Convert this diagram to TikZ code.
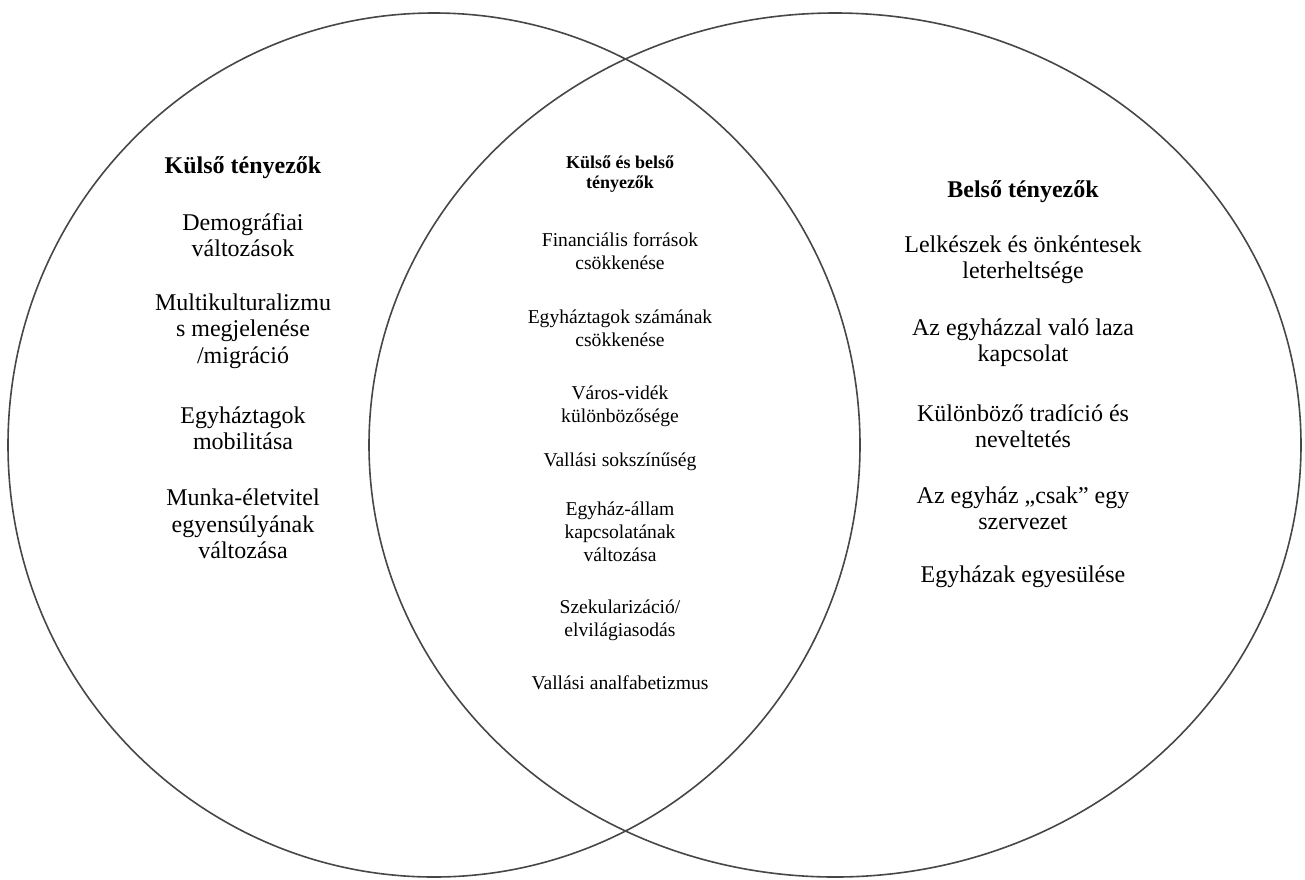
\documentclass[tikz,border=0pt]{standalone}
\usepackage{fontspec}
\setmainfont{Liberation Serif}

\tikzset{
  ring/.style={draw=black!72, line width=0.8pt},
  sidetext/.style={align=center, inner sep=0pt, font=\fontsize{12}{13.2}\selectfont},
  sidehead/.style={sidetext, font=\fontsize{12}{13.2}\selectfont\bfseries},
  midtext/.style={align=center, inner sep=0pt, font=\fontsize{9.8}{11.5}\selectfont},
  midhead/.style={midtext, font=\fontsize{9}{9.8}\selectfont\bfseries}
}

\begin{document}
\begin{tikzpicture}[x=0.5pt,y=-0.5pt]

\useasboundingbox (0,0) rectangle (1305,879);

\coordinate (lc) at (434,445);
\coordinate (rc) at (835,445);

\path[ring] (lc) ellipse [x radius=213pt, y radius=216pt];
\path[ring] (rc) ellipse [x radius=233pt, y radius=216pt];

% kulso tenyezok
\node[sidehead] (khead) at (243,168) {Külső tényezők};
\node[sidetext] (k1) at (243,235) {Demográfiai\\változások};
\node[sidetext] (k2) at (243,331) {Multikulturalizmu\\s megjelenése\\/migráció};
\node[sidetext] (k3) at (243,428) {Egyháztagok\\mobilitása};
\node[sidetext] (k4) at (243,524) {Munka-életvitel\\egyensúlyának\\változása};

% kulso es belso
\node[midhead] (mhead) at (620,174) {Külső és belső\\tényezők};
\node[midtext] (m1) at (620,251) {Financiális források\\csökkenése};
\node[midtext] (m2) at (620,328) {Egyháztagok számának\\csökkenése};
\node[midtext] (m3) at (620,406) {Város-vidék\\különbözősége};
\node[midtext] (m4) at (620,462) {Vallási sokszínűség};
\node[midtext] (m5) at (620,532) {Egyház-állam\\kapcsolatának\\változása};
\node[midtext] (m6) at (620,620) {Szekularizáció/\\elvilágiasodás};
\node[midtext] (m7) at (620,683) {Vallási analfabetizmus};

% belso tenyezok
\node[sidehead] (bhead) at (1023,192) {Belső tényezők};
\node[sidetext] (b1) at (1023,260) {Lelkészek és önkéntesek\\leterheltsége};
\node[sidetext] (b2) at (1023,343) {Az egyházzal való laza\\kapcsolat};
\node[sidetext] (b3) at (1023,426) {Különböző tradíció és\\neveltetés};
\node[sidetext] (b4) at (1023,508) {Az egyház „csak” egy\\szervezet};
\node[sidetext] (b5) at (1023,577) {Egyházak egyesülése};

\end{tikzpicture}
\end{document}
